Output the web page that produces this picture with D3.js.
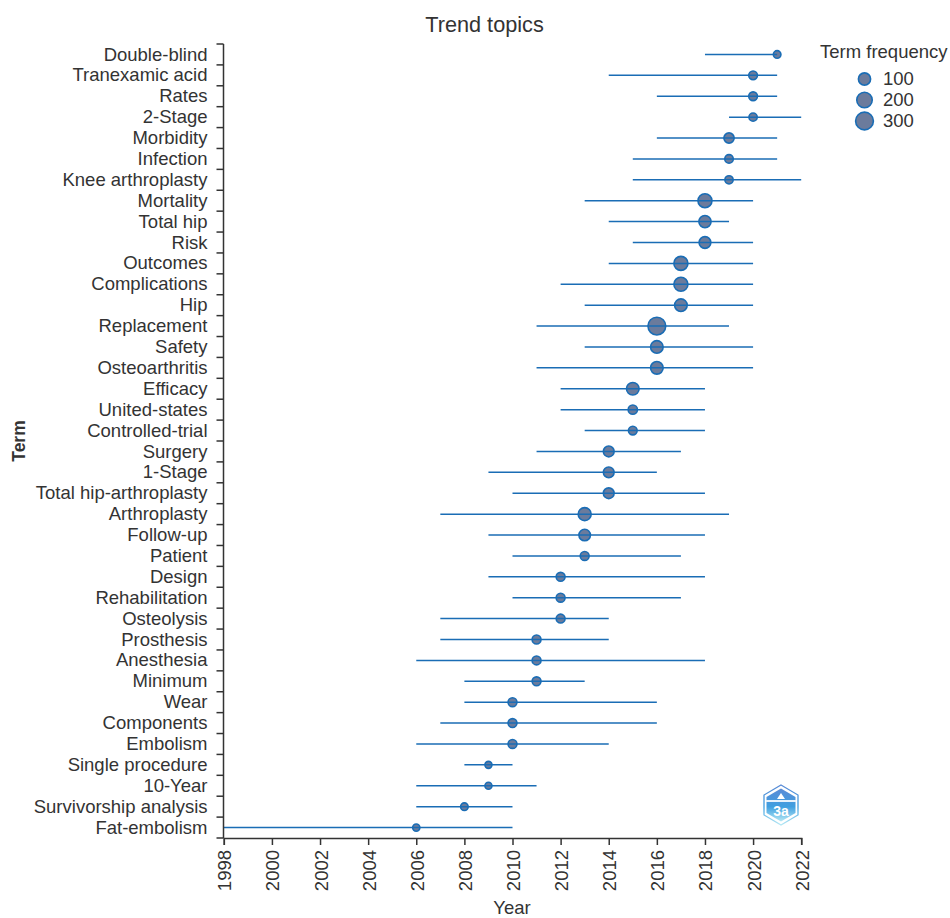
<!DOCTYPE html>
<html>
<head>
<meta charset="utf-8">
<script src="https://cdnjs.cloudflare.com/ajax/libs/d3/7.8.5/d3.min.js"></script>
<style>
html, body { margin: 0; padding: 0; background: #fff; }
svg { display: block; }
text { font-family: "Liberation Sans", Arial, sans-serif; fill: #333; }
</style>
</head>
<body>
<script>
// values, top row first
var terms = ["Double-blind","Tranexamic acid","Rates","2-Stage","Morbidity","Infection","Knee arthroplasty","Mortality","Total hip","Risk","Outcomes","Complications","Hip","Replacement","Safety","Osteoarthritis","Efficacy","United-states","Controlled-trial","Surgery","1-Stage","Total hip-arthroplasty","Arthroplasty","Follow-up","Patient","Design","Rehabilitation","Osteolysis","Prosthesis","Anesthesia","Minimum","Wear","Components","Embolism","Single procedure","10-Year","Survivorship analysis","Fat-embolism"];
var yearStart = [2018,2014,2016,2019,2016,2015,2015,2013,2014,2015,2014,2012,2013,2011,2013,2011,2012,2012,2013,2011,2009,2010,2007,2009,2010,2009,2010,2007,2007,2006,2008,2008,2007,2006,2008,2006,2006,1998];
var yearPeak = [2021,2020,2020,2020,2019,2019,2019,2018,2018,2018,2017,2017,2017,2016,2016,2016,2015,2015,2015,2014,2014,2014,2013,2013,2013,2012,2012,2012,2011,2011,2011,2010,2010,2010,2009,2009,2008,2006];
var yearEnd = [2021,2021,2021,2022,2021,2021,2022,2020,2019,2020,2020,2020,2020,2019,2020,2020,2018,2018,2018,2017,2016,2018,2019,2018,2017,2018,2017,2014,2014,2018,2013,2016,2016,2014,2010,2011,2010,2010];
var frequency = [25,38,38,32,60,35,32,150,100,90,150,150,110,300,110,110,110,45,38,70,70,70,120,85,40,40,40,40,40,40,40,40,40,40,20,20,25,22];
var xTicks = d3.range(1998, 2023, 2);
var legendValues = [100, 200, 300];

var svg = d3.select("body").append("svg").attr("width", 950).attr("height", 918);

var x = d3.scaleLinear().domain([1998, 2022]).range([223.8, 801.2]);
var y = d3.scaleBand().domain(terms).range([44, 838]);
var r = d3.scalePow().exponent(0.344).domain([0, 300]).range([0, 8.9]);

var lineColor = "#1a6db5", dotFill = "#6b7b9c", textColor = "#333";

// title
svg.append("text").attr("x", 484.5).attr("y", 32).attr("text-anchor", "middle").attr("font-size", 21.7).text("Trend topics");

// range lines + dots
var rows = svg.append("g").selectAll("g").data(terms).enter().append("g")
    .attr("transform", function(d) { return "translate(0," + (y(d) + y.bandwidth() / 2) + ")"; });

rows.append("circle")
    .attr("cx", function(d, i) { return x(yearPeak[i]); })
    .attr("r", function(d, i) { return r(frequency[i]); })
    .attr("fill", dotFill).attr("stroke", lineColor).attr("stroke-width", 1.6);

rows.append("line")
    .attr("x1", function(d, i) { return x(yearStart[i]); })
    .attr("x2", function(d, i) { return x(yearEnd[i]); })
    .attr("stroke", lineColor).attr("stroke-width", 1.5);

// y axis, ticks sit on the band edges
var yAxis = svg.append("g").attr("transform", "translate(223.5,0)");
yAxis.append("line").attr("y1", 44).attr("y2", 838).attr("stroke", textColor).attr("stroke-width", 1.5);
yAxis.selectAll(".tick-y").data(terms.concat(["end"])).enter().append("line")
    .attr("x1", -7).attr("x2", 0)
    .attr("y1", function(d) { return d == "end" ? 838 : y(d); })
    .attr("y2", function(d) { return d == "end" ? 838 : y(d); })
    .attr("stroke", textColor).attr("stroke-width", 1.5);
yAxis.selectAll("text").data(terms).enter().append("text")
    .attr("x", -16)
    .attr("y", function(d) { return y(d) + y.bandwidth() / 2; })
    .attr("dy", "0.33em").attr("text-anchor", "end").attr("font-size", 18.5)
    .text(function(d) { return d; });

// x axis
var xAxis = svg.append("g").attr("transform", "translate(0,838)")
    .call(d3.axisBottom(x).tickValues(xTicks).tickFormat(d3.format("d")).tickSize(7).tickPadding(0));
xAxis.select(".domain").attr("stroke", textColor).attr("stroke-width", 1.5);
xAxis.selectAll(".tick line").attr("stroke", textColor).attr("stroke-width", 1.5);
xAxis.selectAll(".tick text")
    .attr("font-size", 18.5).attr("text-anchor", "end").attr("dy", null).attr("y", null)
    .attr("transform", "translate(7,12) rotate(-90)")
    .style("font-family", '"Liberation Sans", Arial, sans-serif').style("fill", textColor);

svg.append("text").attr("x", 512).attr("y", 914).attr("text-anchor", "middle").attr("font-size", 18.5).text("Year");
svg.append("text").attr("transform", "translate(24.5,441) rotate(-90)").attr("text-anchor", "middle")
    .attr("font-size", 17.5).attr("font-weight", "bold").text("Term");

// legend
svg.append("text").attr("x", 820).attr("y", 58).attr("font-size", 18.5).text("Term frequency");
var legend = svg.append("g").selectAll("g").data(legendValues).enter().append("g")
    .attr("transform", function(d, i) { return "translate(864.5," + (79 + i * 21) + ")"; });
legend.append("circle").attr("r", function(d) { return r(d); })
    .attr("fill", dotFill).attr("stroke", lineColor).attr("stroke-width", 1.6);
legend.append("text").attr("x", 18.5).attr("dy", "0.35em").attr("font-size", 18.5).text(function(d) { return d; });

// publisher badge
var defs = svg.append("defs");
var grad = defs.append("linearGradient").attr("id", "badge").attr("x1", 0).attr("y1", 0).attr("x2", 0).attr("y2", 1);
grad.append("stop").attr("offset", "0%").attr("stop-color", "#5a8bd6");
grad.append("stop").attr("offset", "55%").attr("stop-color", "#3f9fe0");
grad.append("stop").attr("offset", "100%").attr("stop-color", "#b5e8f4");
var badge = svg.append("g").attr("transform", "translate(781,805)");
badge.append("polygon").attr("points", "0,-20 17,-10 17,10 0,20 -17,10 -17,-10")
    .attr("fill", "#fff").attr("stroke", "url(#badge)").attr("stroke-width", 1.3);
badge.append("polygon").attr("points", "0,-16.5 14.5,-8 14.5,8 0,16.5 -14.5,8 -14.5,-8").attr("fill", "url(#badge)");
badge.append("rect").attr("x", -15).attr("y", -5).attr("width", 30).attr("height", 2).attr("fill", "#e8f2fb");
badge.append("polygon").attr("points", "0,-12 4,-6 -4,-6").attr("fill", "#fff");
badge.append("text").attr("y", 11).attr("text-anchor", "middle").attr("font-size", 14).attr("font-weight", "bold")
    .style("fill", "#fff").text("3a");
</script>
</body>
</html>
